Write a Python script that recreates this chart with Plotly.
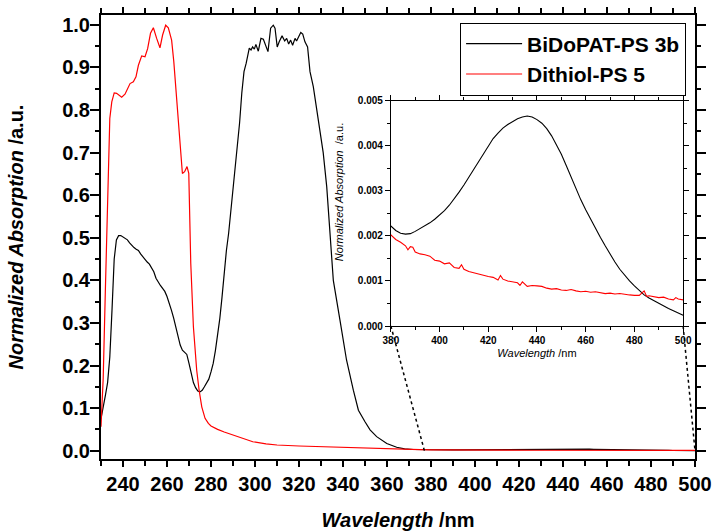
import plotly.graph_objects as go

# ---------------- data ----------------
black_x = [230, 231, 232, 233, 234, 235, 236, 237, 238, 239, 240, 241, 242, 243, 244, 245, 246, 247, 248, 249,
           250, 251, 252, 253, 254, 255, 256, 257, 258, 259, 260, 261, 262, 263, 264, 265, 266, 267, 268, 269,
           270, 271, 272, 273, 274, 275, 276, 277, 278, 279, 280, 281, 282, 283, 284, 285, 286, 287, 288, 289,
           290, 291, 292, 293, 294, 295, 296, 296.5, 297.4, 298.2, 298.9, 299.7, 300.4, 301.5, 302.7, 303.8,
           304.8, 305.9, 307.1, 308.3, 309.1, 310.1, 311, 312.3, 313.5, 314.4, 315.3, 316.2, 317.1, 318.2,
           318.9, 319.8, 320.8, 321.7, 322.7, 323.9, 325, 326.5, 328, 329.5, 331, 332.6, 334, 335.6, 338.6,
           341.6, 344.7, 347, 350, 352.3, 355.3, 359.9, 364.4, 368, 372, 376,
           380, 382, 384, 386, 388, 390, 392, 394, 396, 398, 400, 402, 404, 406, 408, 410, 412, 414, 416, 418,
           420, 422, 424, 426, 428, 430, 432, 434, 436, 438, 440, 442, 444, 446, 448, 450, 452, 454, 456, 458,
           460, 462, 464, 466, 468, 470, 472, 474, 476, 478, 480, 482, 484, 486, 488, 490, 492, 494, 496, 498, 500]
black_y = [0.075, 0.10, 0.13, 0.16, 0.22, 0.33, 0.45, 0.495, 0.505, 0.505, 0.502, 0.498, 0.495, 0.488, 0.482,
           0.477, 0.473, 0.470, 0.462, 0.455, 0.448, 0.443, 0.438, 0.430, 0.420, 0.405, 0.395, 0.388, 0.381,
           0.374, 0.362, 0.348, 0.330, 0.312, 0.290, 0.268, 0.248, 0.236, 0.232, 0.226, 0.205, 0.180, 0.160,
           0.148, 0.140, 0.138, 0.142, 0.150, 0.160, 0.168, 0.185, 0.205, 0.235, 0.27, 0.31, 0.36, 0.42, 0.47,
           0.51, 0.56, 0.61, 0.66, 0.715, 0.77, 0.84, 0.89, 0.910, 0.921, 0.945, 0.941, 0.948, 0.943, 0.954,
           0.938, 0.968, 0.966, 0.952, 0.937, 0.992, 0.999, 0.992, 0.948, 0.960, 0.974, 0.962, 0.968, 0.955,
           0.964, 0.952, 0.968, 0.962, 0.970, 0.982, 0.978, 0.960, 0.948, 0.890, 0.855, 0.80, 0.745, 0.70,
           0.62, 0.51, 0.40, 0.307, 0.213, 0.142, 0.095, 0.068, 0.049, 0.033, 0.017, 0.008, 0.0045, 0.0028, 0.0023,
           0.00222, 0.00212, 0.00206, 0.00204, 0.00205, 0.00210, 0.00216, 0.00222, 0.00229, 0.00237, 0.00246,
           0.00256, 0.00268, 0.00282, 0.00297, 0.00313, 0.00330, 0.00348, 0.00366, 0.00383, 0.00400, 0.00416,
           0.00428, 0.00439, 0.00447, 0.00454, 0.00460, 0.00464, 0.00466, 0.00464, 0.00458, 0.00450, 0.00438,
           0.00422, 0.00403, 0.00381, 0.00356, 0.00330, 0.00304, 0.00280, 0.00258, 0.00237, 0.00217, 0.00197,
           0.00178, 0.00159, 0.00142, 0.00126, 0.00112, 0.00100, 0.00089, 0.00078, 0.00069, 0.00062, 0.00056,
           0.00050, 0.00044, 0.00039, 0.00034, 0.00029, 0.00024]

red_x = [230, 231, 232, 233, 234, 234.9, 236, 237.1, 239.4, 240.9, 243.2, 244.7, 245.9, 247, 248.5, 250, 251.2,
         252.5, 253.8, 255.3, 256.8, 258, 259.4, 260.6, 262.1, 263.1, 264.4, 265.9, 267, 268, 269.1, 269.9,
         270.8, 272, 273.5, 274.6, 275.8, 277.3, 278.8, 280, 283, 286, 290, 295, 299, 305, 310, 320, 330, 340,
         350, 360, 370, 375,
         380, 382, 384, 386, 387, 388, 389, 390, 392, 394, 396, 398, 400, 402, 404, 406, 408, 409, 410, 412,
         414, 416, 418, 420, 422, 424, 425, 426, 428, 430, 432, 433, 434, 436, 438, 440, 442, 444, 446, 448,
         450, 452, 454, 456, 458, 460, 462, 464, 466, 468, 470, 472, 474, 476, 478, 480, 482, 484, 485, 486,
         488, 490, 492, 494, 496, 497, 498, 500]
red_y = [0.056, 0.17, 0.38, 0.62, 0.78, 0.819, 0.840, 0.839, 0.830, 0.837, 0.862, 0.866, 0.878, 0.905, 0.927,
         0.925, 0.944, 0.980, 0.993, 0.968, 0.946, 0.976, 0.999, 0.993, 0.964, 0.913, 0.827, 0.706, 0.651,
         0.655, 0.667, 0.651, 0.44, 0.291, 0.189, 0.142, 0.103, 0.076, 0.064, 0.058, 0.050, 0.044, 0.037,
         0.027, 0.021, 0.016, 0.0134, 0.011, 0.0092, 0.0075, 0.006, 0.0045, 0.003, 0.0025,
         0.00202, 0.00192, 0.00186, 0.00178, 0.00169, 0.00176, 0.00175, 0.00164, 0.00160, 0.00158, 0.00155,
         0.00146, 0.00144, 0.00138, 0.00140, 0.00130, 0.00128, 0.00136, 0.00126, 0.00121, 0.00118, 0.00116,
         0.00112, 0.00110, 0.00108, 0.00102, 0.00112, 0.00104, 0.00100, 0.00098, 0.00096, 0.00090, 0.00098,
         0.00088, 0.00090, 0.00089, 0.00088, 0.00084, 0.00082, 0.00083, 0.00080, 0.00079, 0.00081, 0.00078,
         0.00076, 0.00077, 0.00075, 0.00076, 0.00074, 0.00072, 0.00073, 0.00071, 0.00072, 0.00070, 0.00069,
         0.00068, 0.00068, 0.00078, 0.00066, 0.00067, 0.00065, 0.00063, 0.00064, 0.00060, 0.00058, 0.00063,
         0.00060, 0.00058]

series_names = ["BiDoPAT-PS 3b", "Dithiol-PS 5"]
series_colors = ["black", "red"]

# tick labels
main_xticks = [240, 260, 280, 300, 320, 340, 360, 380, 400, 420, 440, 460, 480, 500]
main_yticks = [0.0, 0.1, 0.2, 0.3, 0.4, 0.5, 0.6, 0.7, 0.8, 0.9, 1.0]
inset_xticks = [380, 400, 420, 440, 460, 480, 500]
inset_yticks = [0.000, 0.001, 0.002, 0.003, 0.004, 0.005]

main_xrange = [230, 500]
main_yrange = [-0.0195, 1.023]
inset_xrange = [380, 500]
inset_yrange = [0, 0.005]
zoom_from = [377, 500]   # where the zoom connectors meet the main x axis (y = 0)

FONT = "Arial, 'Liberation Sans', sans-serif"

fig = go.Figure()
for xs, ys, name, col in [(black_x, black_y, series_names[0], series_colors[0]),
                          (red_x, red_y, series_names[1], series_colors[1])]:
    fig.add_trace(go.Scatter(x=xs, y=ys, mode="lines", name=name,
                             line=dict(color=col, width=1.2), xaxis="x", yaxis="y"))
for xs, ys, name, col in [(black_x, black_y, series_names[0], series_colors[0]),
                          (red_x, red_y, series_names[1], series_colors[1])]:
    fig.add_trace(go.Scatter(x=xs, y=ys, mode="lines", name=name, showlegend=False,
                             line=dict(color=col, width=1.1), xaxis="x2", yaxis="y2"))

inset_dx = [0.488, 0.980]
inset_dy = [0.2995, 0.807]

axis_common = dict(showgrid=False, zeroline=False, showline=True, linecolor="black",
                   mirror="allticks", ticks="outside", tickcolor="black", automargin=False)


def bold(vals, fmt):
    return ["<b>" + format(v, fmt) + "</b>" for v in vals]


fig.update_layout(
    width=715, height=531,
    margin=dict(l=101, r=20, t=15, b=72),
    paper_bgcolor="white", plot_bgcolor="white",
    font=dict(family=FONT, color="black"),
    xaxis=dict(**axis_common, range=main_xrange, tickmode="array", tickvals=main_xticks,
               ticktext=bold(main_xticks, "d"), linewidth=2, ticklen=6, tickwidth=1.5,
               minor=dict(dtick=10, tick0=0, ticklen=5, tickcolor="black", tickwidth=1.5),
               tickfont=dict(size=20, family=FONT),
               title=dict(text="<b><i>Wavelength</i> /nm</b>", font=dict(size=20, family=FONT), standoff=21)),
    yaxis=dict(**axis_common, range=main_yrange, tickmode="array", tickvals=main_yticks,
               ticktext=bold(main_yticks, ".1f"), linewidth=2, ticklen=9, tickwidth=1.5,
               ticklabelstandoff=-4,
               minor=dict(dtick=0.05, tick0=0, ticklen=4, tickcolor="black", tickwidth=1.5),
               tickfont=dict(size=20, family=FONT),
               title=dict(text="<b><i>Normalized Absorption</i> /a.u.</b>", font=dict(size=20, family=FONT),
                          standoff=33)),
    xaxis2=dict(**axis_common, domain=inset_dx, anchor="y2", range=inset_xrange, tickmode="array",
                tickvals=inset_xticks, ticktext=bold(inset_xticks, "d"),
                linewidth=1, ticklen=5, minor=dict(dtick=10, tick0=0, ticklen=3, tickcolor="black"),
                tickfont=dict(size=10, family=FONT),
                title=dict(text="<i>Wavelength</i> /nm", font=dict(size=11, family=FONT), standoff=4)),
    yaxis2=dict(**axis_common, domain=inset_dy, anchor="x2", range=inset_yrange, tickmode="array",
                tickvals=inset_yticks, ticktext=bold(inset_yticks, ".3f"), linewidth=1, ticklen=5,
                minor=dict(dtick=0.0005, tick0=0, ticklen=3, tickcolor="black"),
                tickfont=dict(size=10, family=FONT)),
    legend=dict(x=0.985, xanchor="right", y=0.983, yanchor="top", bgcolor="white",
                bordercolor="black", borderwidth=1,
                font=dict(size=21, family=FONT, weight="bold"), itemwidth=56,
                tracegroupgap=0),
    showlegend=True,
)

# inset y-axis title as an annotation (placed as in the reference)
fig.add_annotation(text="<i>Normalized Absorption</i>  /a.u.", xref="paper", yref="paper",
                   x=0.4007, y=0.601, textangle=-90, showarrow=False,
                   font=dict(size=11, family=FONT, color="black"))


# dotted zoom connectors: inset bottom corners -> main axis y=0
def main_to_paper(x, y):
    px = (x - main_xrange[0]) / (main_xrange[1] - main_xrange[0])
    py = (y - main_yrange[0]) / (main_yrange[1] - main_yrange[0])
    return px, py


for corner_x, target in zip(inset_dx, zoom_from):
    tx, ty = main_to_paper(target, 0)
    fig.add_shape(type="line", xref="paper", yref="paper", x0=corner_x, y0=inset_dy[0], x1=tx, y1=ty,
                  line=dict(color="black", width=1.5, dash="dot"), layer="above")

fig.write_html("out.html", config={"displayModeBar": False},
               post_script="document.body.style.margin='0';")
